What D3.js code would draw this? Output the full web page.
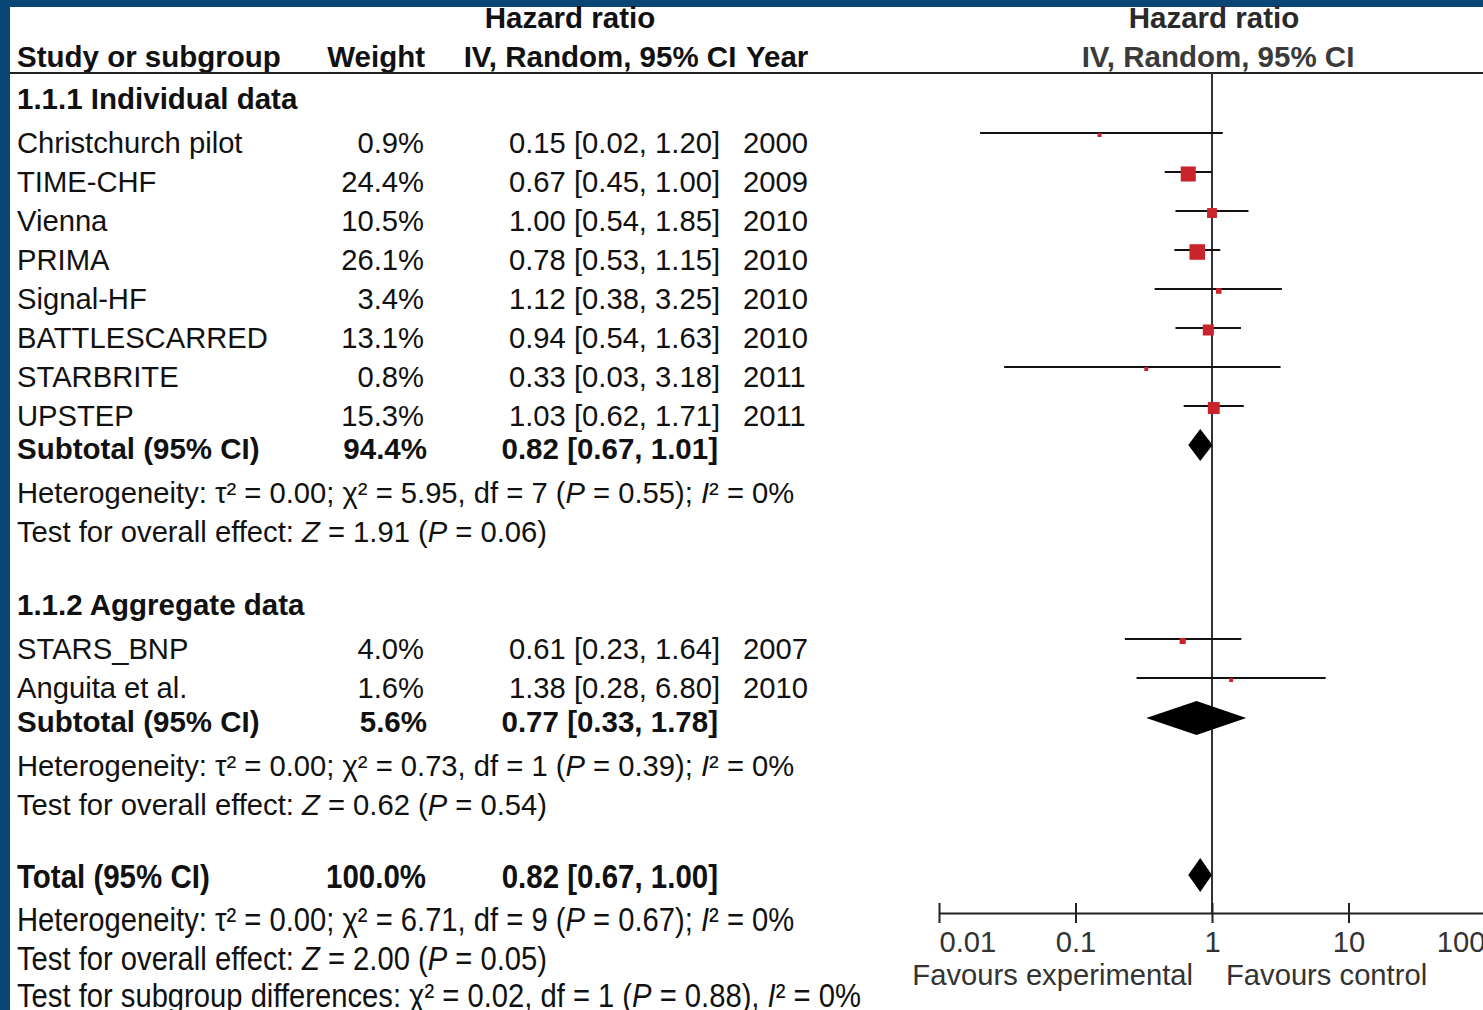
<!DOCTYPE html>
<html>
<head>
<meta charset="utf-8">
<script src="https://cdn.jsdelivr.net/npm/d3@7"></script>
<style>
  body { margin: 0; background: #fff; }
  svg { display: block; font-family: 'Liberation Sans', Arial, sans-serif; }
</style>
</head>
<body>
<div id="chart"></div>
<script>
// Data
const studies1 = ['Christchurch pilot', 'TIME-CHF', 'Vienna', 'PRIMA', 'Signal-HF', 'BATTLESCARRED', 'STARBRITE', 'UPSTEP'];
const weights1 = [0.9, 24.4, 10.5, 26.1, 3.4, 13.1, 0.8, 15.3];
const hr1 = [0.15, 0.67, 1.0, 0.78, 1.12, 0.94, 0.33, 1.03];
const lo1 = [0.02, 0.45, 0.54, 0.53, 0.38, 0.54, 0.03, 0.62];
const hi1 = [1.2, 1.0, 1.85, 1.15, 3.25, 1.63, 3.18, 1.71];
const years1 = [2000, 2009, 2010, 2010, 2010, 2010, 2011, 2011];

const studies2 = ['STARS_BNP', 'Anguita et al.'];
const weights2 = [4.0, 1.6];
const hr2 = [0.61, 1.38];
const lo2 = [0.23, 0.28];
const hi2 = [1.64, 6.8];
const years2 = [2007, 2010];

// [weight, hr, lo, hi]
const subtotal1 = [94.4, 0.82, 0.67, 1.01];
const subtotal2 = [5.6, 0.77, 0.33, 1.78];
const total = [100.0, 0.82, 0.67, 1.0];

// [tau2, chi2, df, P, I2]
const het1 = ['0.00', '5.95', '7', '0.55', '0'];
const het2 = ['0.00', '0.73', '1', '0.39', '0'];
const hetTotal = ['0.00', '6.71', '9', '0.67', '0'];
// [Z, P]
const effect1 = ['1.91', '0.06'];
const effect2 = ['0.62', '0.54'];
const effectTotal = ['2.00', '0.05'];
const subgroupDiff = ['0.02', '1', '0.88', '0'];

const tickValues = [0.01, 0.1, 1, 10, 100];
const tickLabels = ['0.01', '0.1', '1', '10', '100'];

const W = 1483;
const H = 1010;
const fs = 29.2;
const fsBold = 29.5;
const ink = '#111';
const red = '#c9232b';

const svg = d3.select('#chart').append('svg').attr('width', W).attr('height', H);

const x = d3.scaleLog().domain([0.01, 100]).range([939, 1485]);
const xAxisY = 913;

// border
svg.append('rect').attr('x', 0).attr('y', 0).attr('width', W).attr('height', 7).attr('fill', '#0a4675');
svg.append('rect').attr('x', 0).attr('y', 0).attr('width', 10).attr('height', H).attr('fill', '#0a4675');

const fmt = d3.format('.2f');
const ciText = (h, l, u) => `${fmt(h)} [${fmt(l)}, ${fmt(u)}]`;

function txt(xp, yc, s, opts = {}) {
  const t = svg
    .append('text')
    .attr('x', xp)
    .attr('y', yc + 10)
    .attr('font-size', opts.bold ? fsBold : fs)
    .attr('fill', opts.fill || ink)
    .attr('font-weight', opts.bold ? 'bold' : 'normal')
    .attr('text-anchor', opts.anchor || 'start')
    .text(s);
  if (opts.stretch) {
    t.attr('x', 0).attr('y', 0).attr('transform', `translate(${xp},${yc + 11}) scale(1,${opts.stretch})`);
  }
  return t;
}

// stats line with italic symbols
function richLine(yc, parts, stretch) {
  const t = svg
    .append('text')
    .attr('font-size', fs)
    .attr('fill', ink);
  if (stretch) t.attr('transform', `translate(17,${yc + 10}) scale(1,${stretch})`);
  else t.attr('x', 17).attr('y', yc + 10);
  parts.forEach((p) => {
    t.append('tspan').attr('font-style', p[1] ? 'italic' : 'normal').text(p[0]);
  });
}

const hetParts = (h) => [
  ['Heterogeneity: τ² = ' + h[0] + '; χ² = ' + h[1] + ', df = ' + h[2] + ' (', 0],
  ['P', 1],
  [' = ' + h[3] + '); ', 0],
  ['I', 1],
  ['² = ' + h[4] + '%', 0],
];
const effParts = (e) => [
  ['Test for overall effect: ', 0],
  ['Z', 1],
  [' = ' + e[0] + ' (', 0],
  ['P', 1],
  [' = ' + e[1] + ')', 0],
];

// headers
txt(570, 18, 'Hazard ratio', { bold: true, anchor: 'middle' });
txt(17, 57, 'Study or subgroup', { bold: true });
txt(425, 57, 'Weight', { bold: true, anchor: 'end' });
txt(600, 57, 'IV, Random, 95% CI', { bold: true, anchor: 'middle' });
txt(746, 57, 'Year', { bold: true });
txt(1214, 18, 'Hazard ratio', { bold: true, anchor: 'middle', fill: '#2a2a2a' });
txt(1218, 57, 'IV, Random, 95% CI', { bold: true, anchor: 'middle', fill: '#3a3a3a' });

svg.append('line').attr('x1', 10).attr('x2', W).attr('y1', 73).attr('y2', 73).attr('stroke', '#222').attr('stroke-width', 2);

// null line
svg
  .append('line')
  .attr('x1', x(1))
  .attr('x2', x(1))
  .attr('y1', 73)
  .attr('y2', xAxisY)
  .attr('stroke', '#333')
  .attr('stroke-width', 2);

function studyRows(names, w, h, l, u, yr, y0) {
  names.forEach((n, i) => {
    const yc = y0 + i * 39;
    txt(17, yc, n);
    txt(424, yc, w[i].toFixed(1) + '%', { anchor: 'end' });
    txt(720, yc, ciText(h[i], l[i], u[i]), { anchor: 'end' });
    txt(743, yc, String(yr[i]));
    const ly = yc - 10;
    svg
      .append('line')
      .attr('x1', x(l[i]))
      .attr('x2', x(u[i]))
      .attr('y1', ly)
      .attr('y2', ly)
      .attr('stroke', '#111')
      .attr('stroke-width', 2);
    const side = Math.max(4, 3.05 * Math.sqrt(w[i]));
    svg
      .append('rect')
      .attr('x', x(h[i]) - side / 2)
      .attr('y', ly + 2 - side / 2)
      .attr('width', side)
      .attr('height', side)
      .attr('fill', red);
  });
}

function diamond(s, yc, half) {
  svg
    .append('path')
    .attr(
      'd',
      `M${x(s[2])},${yc}L${x(s[1])},${yc - half}L${x(s[3])},${yc}L${x(s[1])},${yc + half}Z`,
    )
    .attr('fill', '#000');
}

// subgroup 1
txt(17, 99, '1.1.1 Individual data', { bold: true });
studyRows(studies1, weights1, hr1, lo1, hi1, years1, 143);
txt(17, 449, 'Subtotal (95% CI)', { bold: true });
txt(427, 449, subtotal1[0].toFixed(1) + '%', { bold: true, anchor: 'end' });
txt(718, 449, ciText(subtotal1[1], subtotal1[2], subtotal1[3]), { bold: true, anchor: 'end' });
diamond(subtotal1, 445, 16);
richLine(493, hetParts(het1));
richLine(532, effParts(effect1));

// subgroup 2
txt(17, 605, '1.1.2 Aggregate data', { bold: true });
studyRows(studies2, weights2, hr2, lo2, hi2, years2, 649);
txt(17, 722, 'Subtotal (95% CI)', { bold: true });
txt(427, 722, subtotal2[0].toFixed(1) + '%', { bold: true, anchor: 'end' });
txt(718, 722, ciText(subtotal2[1], subtotal2[2], subtotal2[3]), { bold: true, anchor: 'end' });
diamond(subtotal2, 718, 17);
richLine(766, hetParts(het2));
richLine(805, effParts(effect2));

// total
const st = 1.15;
txt(17, 877, 'Total (95% CI)', { bold: true, stretch: st });
txt(426, 877, total[0].toFixed(1) + '%', { bold: true, anchor: 'end', stretch: st });
txt(718, 877, ciText(total[1], total[2], total[3]), { bold: true, anchor: 'end', stretch: st });
diamond(total, 875, 17);
richLine(921, hetParts(hetTotal), st);
richLine(960, effParts(effectTotal), st);
richLine(
  997,
  [
    ['Test for subgroup differences: χ² = ' + subgroupDiff[0] + ', df = ' + subgroupDiff[1] + ' (', 0],
    ['P', 1],
    [' = ' + subgroupDiff[2] + '), ', 0],
    ['I', 1],
    ['² = ' + subgroupDiff[3] + '%', 0],
  ],
  st,
);

// x axis
const xAxis = d3
  .axisBottom(x)
  .tickValues(tickValues)
  .tickFormat((d, i) => tickLabels[i])
  .tickSize(10)
  .tickSizeOuter(0);

const gx = svg.append('g').attr('transform', `translate(0,${xAxisY})`).call(xAxis);
gx.select('.domain').attr('stroke', '#222').attr('stroke-width', 2);
gx.selectAll('.tick line').attr('y1', -10).attr('y2', 10).attr('stroke', '#222').attr('stroke-width', 2);
gx.selectAll('.tick text')
  .attr('y', 39)
  .attr('dy', 0)
  .attr('font-size', fs)
  .attr('font-family', "'Liberation Sans', Arial, sans-serif")
  .attr('fill', '#333')
  .attr('text-anchor', (d, i) => (i === 0 ? 'start' : i === tickValues.length - 1 ? 'end' : 'middle'));

txt(1193, 975, 'Favours experimental', { anchor: 'end', fill: '#333' });
txt(1226, 975, 'Favours control', { fill: '#333' });
</script>
</body>
</html>
